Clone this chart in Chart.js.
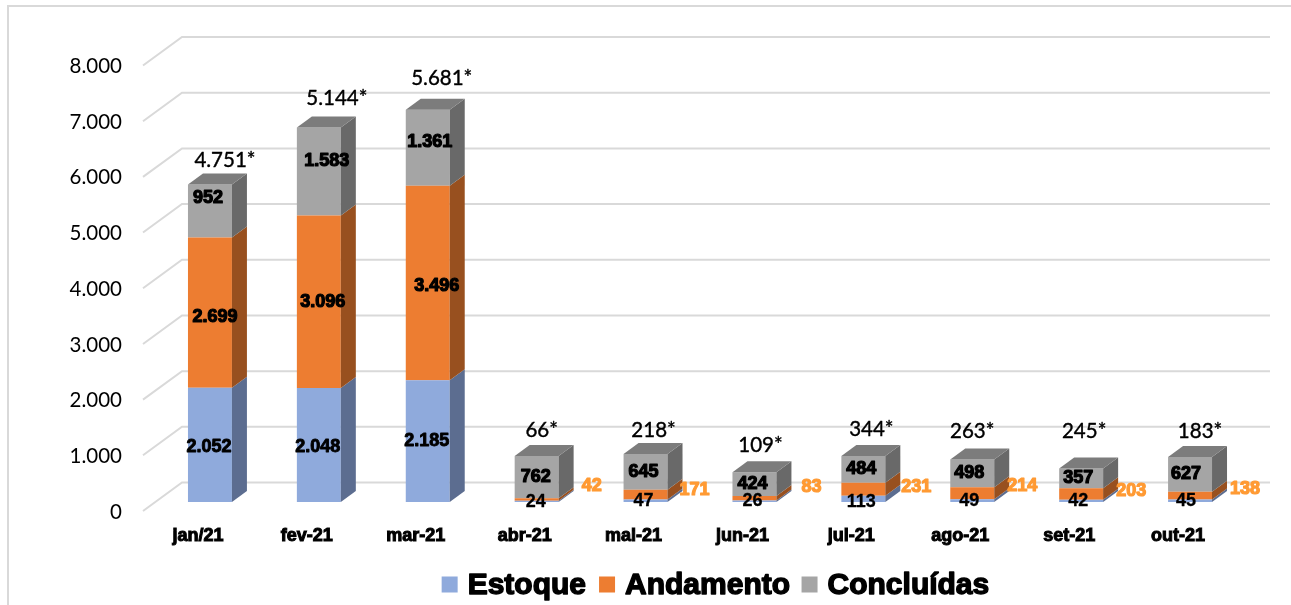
<!DOCTYPE html>
<html><head><meta charset="utf-8">
<script src="https://cdn.jsdelivr.net/npm/chart.js@4/dist/chart.umd.min.js"></script>
<style>
html,body{margin:0;padding:0;background:#fff;overflow:hidden}
#wrap{position:absolute;left:0;top:0;width:1291px;height:605px}
#frame{position:absolute;left:7px;top:5px;right:0;bottom:0;border-left:2px solid #d9d9d9;border-top:2px solid #d9d9d9}
canvas{position:absolute;left:0;top:0}
</style></head><body>
<div id="wrap"><div id="frame"></div><canvas id="c" width="1291" height="605"></canvas></div>
<script>
const categories = ['jan/21','fev-21','mar-21','abr-21','mai-21','jun-21','jul-21','ago-21','set-21','out-21'];
const estoque    = [2052,2048,2185,24,47,26,113,49,42,45];
const andamento  = [2699,3096,3496,42,171,83,231,214,203,138];
const concluidas = [952,1583,1361,762,645,424,484,498,357,627];
const totalLabels = ['4.751*','5.144*','5.681*','66*','218*','109*','344*','263*','245*','183*'];
const yTickLabels = ['0','1.000','2.000','3.000','4.000','5.000','6.000','7.000','8.000'];
const seriesNames = ['Estoque','Andamento','Concluídas'];

const frontColors = ['#8faadc','#ed7d31','#a5a5a5'];
const sideColors  = ['#5c6d90','#98501f','#696969'];
const topColor = '#7c7c7c';
const gridColor = '#d9d9d9';
const DEPTH_X = 15, DEPTH_Y = 11;

// manual label placement, relative to the centre of each segment
const totalNudge = [[15,-24],[18,-29],[14,-31],[5,-26],[8,-23.5],[6,-27],[8,-27],[0,-28],[3,-37],[10,-26]];
const concNudge  = [[-2,-13],[8,-10],[2,-6],[-1,0],[-2,0],[-2,0],[-2,0],[-3,0],[-3,0],[-4,0]];
const andNudge   = [[5,4],[4,0],[9,3],[55,-13],[49,-5],[57,-11],[53,-2],[50,-7],[50,-2.5],[55,-7]];
const estNudge   = [[-1,2],[-1,2],[-1,0],[-1,1],[-2,0],[-2,0],[-2,3],[-3,0],[-3,0],[-4,0]];
const smallLimit = 200;

function fmt(v){ return String(v).replace(/\B(?=(\d{3})+(?!\d))/g,'.'); }

function label(ctx,text,x,y,font,color,stroke){
  ctx.font = font; ctx.textAlign='center'; ctx.textBaseline='middle';
  if(stroke){ ctx.lineWidth=stroke; ctx.lineJoin='round'; ctx.strokeStyle=color; ctx.strokeText(text,x,y); }
  ctx.fillStyle=color; ctx.fillText(text,x,y);
}

const box3d = {
  id:'box3d',
  afterLayout(chart){
    const lg = chart.legend;
    lg.left = 139; lg.right = 1291; lg.top = 557.5; lg.bottom = 605;
  },
  beforeDatasetsDraw(chart){
    const {ctx,scales:{y}} = chart;
    ctx.save(); ctx.strokeStyle=gridColor; ctx.lineWidth=2;
    yTickLabels.forEach((_,i)=>{
      const py = y.getPixelForValue(i*1000);
      ctx.beginPath();
      ctx.moveTo(143,py+9); ctx.lineTo(182,py-19.5); ctx.lineTo(1270,py-19.5);
      ctx.stroke();
    });
    ctx.restore();
  },
  afterDatasetsDraw(chart){
    const {ctx} = chart;
    ctx.save();
    chart.data.datasets.forEach((ds,di)=>{
      chart.getDatasetMeta(di).data.forEach(b=>{
        const r = b.x+b.width/2, l = b.x-b.width/2;
        ctx.fillStyle = sideColors[di];
        ctx.beginPath();
        ctx.moveTo(r,b.y); ctx.lineTo(r+DEPTH_X,b.y-DEPTH_Y);
        ctx.lineTo(r+DEPTH_X,b.base-DEPTH_Y); ctx.lineTo(r,b.base);
        ctx.closePath(); ctx.fill();
        if(di===2){
          ctx.fillStyle = topColor;
          ctx.beginPath();
          ctx.moveTo(l,b.y); ctx.lineTo(l+DEPTH_X,b.y-DEPTH_Y);
          ctx.lineTo(r+DEPTH_X,b.y-DEPTH_Y); ctx.lineTo(r,b.y);
          ctx.closePath(); ctx.fill();
        }
      });
    });
    const bold = 'bold 18px "Liberation Sans"';
    const mE = chart.getDatasetMeta(0).data, mA = chart.getDatasetMeta(1).data, mC = chart.getDatasetMeta(2).data;
    categories.forEach((_,i)=>{
      const mid = b => (b.y+b.base)/2;
      label(ctx,fmt(concluidas[i]),mC[i].x+concNudge[i][0],mid(mC[i])+concNudge[i][1],bold,'#000',1.2);
      const small = andamento[i] < smallLimit*2 && estoque[i] < smallLimit;
      label(ctx,fmt(andamento[i]),mA[i].x+andNudge[i][0],mid(mA[i])+andNudge[i][1],bold,small?'#ff9a33':'#000',1.2);
      label(ctx,fmt(estoque[i]),mE[i].x+estNudge[i][0],mid(mE[i])+estNudge[i][1],bold,'#000',small?0.3:0.9);
      label(ctx,totalLabels[i],mC[i].x+totalNudge[i][0],mC[i].y+totalNudge[i][1],'20.5px Lato','#000',0.4);
    });
    // legend text, heavy weight
    chart.legend.legendItems.forEach((it,i)=>{
      const h = chart.legend.legendHitBoxes[i];
      ctx.font='bold 30px "Liberation Sans"'; ctx.textAlign='left'; ctx.textBaseline='middle';
      ctx.lineWidth=1.4; ctx.strokeStyle='#000'; ctx.fillStyle='#000'; ctx.lineJoin='round';
      ctx.strokeText(it.text,h.left+26,h.top+h.height/2+1);
      ctx.fillText(it.text,h.left+26,h.top+h.height/2+1);
    });
    ctx.restore();
  }
};

new Chart(document.getElementById('c'),{
  type:'bar',
  plugins:[box3d],
  data:{labels:categories,datasets:[estoque,andamento,concluidas].map((d,i)=>({
    label:seriesNames[i],data:d,backgroundColor:frontColors[i],borderWidth:0,
    categoryPercentage:1,barPercentage:44/109
  }))},
  options:{
    responsive:false,animation:false,
    layout:{padding:{top:56.5,right:46.5,left:0,bottom:0}},
    plugins:{
      tooltip:{enabled:false},
      legend:{position:'bottom',align:'center',labels:{
        boxWidth:16,boxHeight:16,padding:12.5,color:'rgba(0,0,0,0)',
        font:{family:'"Liberation Sans"',size:29,weight:'bold'}
      }}
    },
    scales:{
      x:{stacked:true,grid:{display:false,drawTicks:false},border:{display:false},
        afterFit(s){s.height=51.5;},
        ticks:{autoSkip:false,maxRotation:0,minRotation:0,padding:23,labelOffset:-12,color:'#000',
          font:{family:'"Liberation Sans"',size:18,weight:'bold'},textStrokeColor:'#000',textStrokeWidth:1}},
      y:{stacked:true,min:0,max:8000,grid:{display:false,drawTicks:false},border:{display:false},
        afterFit(s){s.width=155.5;},
        afterBuildTicks(s){s.ticks=yTickLabels.map((_,i)=>({value:i*1000}));},
        ticks:{padding:33.5,labelOffset:10,color:'#000',font:{family:'Lato',size:20.5},
          callback(v){return yTickLabels[v/1000];}}}
    }
  }
});
</script></body></html>
